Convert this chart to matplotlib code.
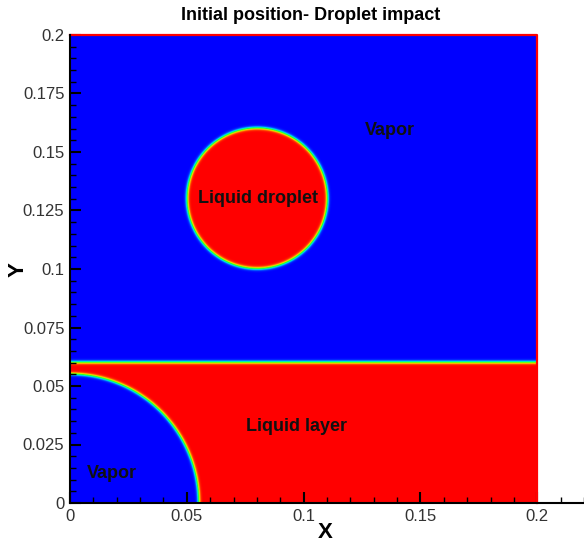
import numpy as np
import matplotlib
matplotlib.use("Agg")
import matplotlib.pyplot as plt
from matplotlib.colors import LinearSegmentedColormap
from matplotlib.ticker import MultipleLocator, FixedLocator, FixedFormatter

plt.rcParams['font.family'] = ['Liberation Sans', 'DejaVu Sans']

# Domain and initial geometry
domain_size = 0.2
droplet_center = (0.08, 0.13)
droplet_radius = 0.03
layer_height = 0.06
bubble_radius = 0.055
interface_width = 0.0007

x_ticks = [0, 0.05, 0.1, 0.15, 0.2]
x_tick_labels = ["0", "0.05", "0.1", "0.15", "0.2"]
y_ticks = [0, 0.025, 0.05, 0.075, 0.1, 0.125, 0.15, 0.175, 0.2]
y_tick_labels = ["0", "0.025", "0.05", "0.075", "0.1", "0.125", "0.15", "0.175", "0.2"]

region_labels = ["Vapor", "Liquid droplet", "Liquid layer", "Vapor"]
region_x = [0.137, 0.0805, 0.097, 0.018]
region_y = [0.159, 0.13, 0.0325, 0.0124]

# Volume fraction field
n = 900
xs = np.linspace(0, domain_size, n)
ys = np.linspace(0, domain_size, n)
X, Y = np.meshgrid(xs, ys)
d_drop = droplet_radius - np.hypot(X - droplet_center[0], Y - droplet_center[1])
d_layer = np.minimum(layer_height - Y, np.hypot(X, Y) - bubble_radius)
d = np.maximum(d_drop, d_layer)
phi = 0.5 * (1 + np.tanh(d / interface_width))

cmap = LinearSegmentedColormap.from_list(
    "phase", ["#0000ff", "#00ffff", "#00ff00", "#ffff00", "#ff0000"])

fig = plt.figure(figsize=(5.84, 5.43), dpi=100)
ax = fig.add_axes([70 / 584, 40 / 543, 514 / 584, 468 / 543])
ax.imshow(phi, origin="lower", extent=[0, domain_size, 0, domain_size],
          cmap=cmap, vmin=0, vmax=1, interpolation="bilinear", aspect="auto", zorder=1)
ax.plot([0, domain_size, domain_size], [domain_size, domain_size, 0],
        color="#ff0000", lw=1.6, zorder=2, clip_on=False)

ax.set_xlim(0, 0.22)
ax.set_ylim(0, 0.2)
for s in ["top", "right"]:
    ax.spines[s].set_visible(False)
for s in ["left", "bottom"]:
    ax.spines[s].set_linewidth(1.5)
    ax.spines[s].set_zorder(3)

ax.xaxis.set_major_locator(FixedLocator(x_ticks))
ax.xaxis.set_major_formatter(FixedFormatter(x_tick_labels))
ax.yaxis.set_major_locator(FixedLocator(y_ticks))
ax.yaxis.set_major_formatter(FixedFormatter(y_tick_labels))
ax.xaxis.set_minor_locator(MultipleLocator(0.01))
ax.yaxis.set_minor_locator(MultipleLocator(0.005))
ax.tick_params(which="major", direction="in", length=8, width=1.5,
               labelsize=12, colors="black", pad=4)
ax.tick_params(which="minor", direction="in", length=4, width=1.0)
for t in ax.get_xticklabels() + ax.get_yticklabels():
    t.set_color("#333333")

ax.set_xlabel("X", fontsize=16, fontweight="bold", va="center")
ax.set_ylabel("Y", fontsize=16, fontweight="bold", va="center")
ax.xaxis.set_label_coords(0.496, -0.062)
ax.yaxis.set_label_coords(-0.101, 0.498)

for lbl, tx, ty in zip(region_labels, region_x, region_y):
    ax.text(tx, ty, lbl, ha="center", va="center", fontsize=13,
            fontweight="bold", color="#111111", zorder=5)

fig.text(311 / 584, 1 - 16 / 543, "Initial position- Droplet impact",
         ha="center", va="center", fontsize=13, fontweight="bold")

fig.savefig("out.png", dpi=100)
